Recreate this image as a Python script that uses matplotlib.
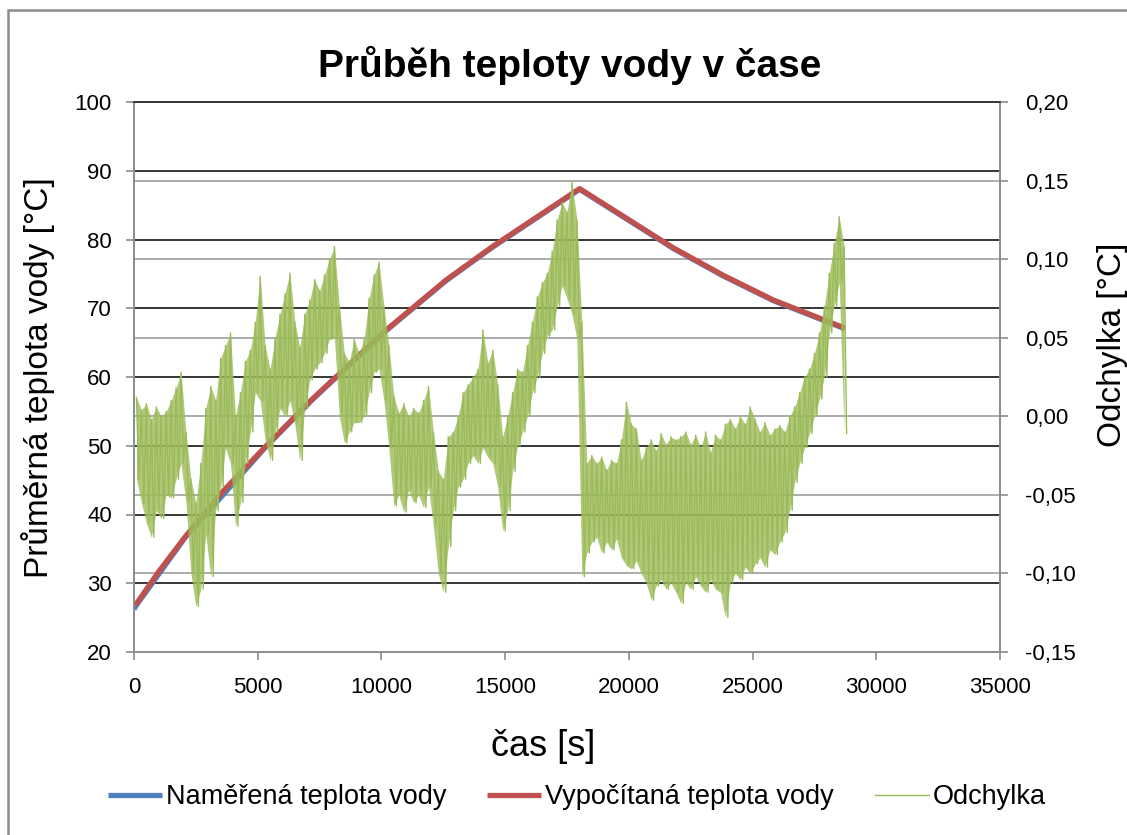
import numpy as np
import matplotlib
matplotlib.use('Agg')
import matplotlib.pyplot as plt
from matplotlib.transforms import blended_transform_factory
from matplotlib.patches import Rectangle

plt.rcParams['font.family'] = ['Liberation Sans', 'DejaVu Sans']

# measured and calculated mean water temperature [°C] vs. time [s]
meas_time = [0, 55, 2078, 5318, 7209, 10180, 12610, 14500, 18010, 21790, 23810, 25840, 28740]
meas_temp = [26.2, 26.6, 36.7, 49.8, 56.7, 66.7, 74.0, 78.9, 87.3, 78.7, 74.7, 71.1, 67.0]
calc_time = [55, 1000, 2078, 3600, 5318, 7209, 10180, 12610, 14500, 18010, 21790, 23810, 25840, 28740]
calc_temp = [26.8, 31.7, 36.8, 43.4, 49.9, 56.8, 66.8, 74.1, 79.0, 87.4, 78.8, 74.8, 71.2, 67.1]

# deviation [°C], local maxima / minima every 200 s
dev_time_hi = np.arange(100, 28800, 200)
dev_time_lo = dev_time_hi + 100
dev_hi = [
    0.012, 0.004, 0.008, -0.002, 0.006, 0.000, 0.003, 0.010, 0.018, 0.028,
    -0.010, -0.040, -0.055, -0.030, 0.005, 0.019, 0.010, 0.037, 0.045, 0.053,
    0.000, 0.015, 0.035, 0.042, 0.060, 0.089, 0.045, 0.030, 0.050, 0.065,
    0.078, 0.091, 0.060, 0.044, 0.065, 0.074, 0.087, 0.080, 0.090, 0.100,
    0.108, 0.070, 0.040, 0.035, 0.049, 0.040, 0.049, 0.075, 0.090, 0.098,
    0.070, 0.045, 0.013, 0.002, 0.008, 0.000, 0.005, 0.002, 0.010, 0.019,
    -0.010, -0.035, -0.040, -0.013, -0.010, 0.000, 0.015, 0.020, 0.025, 0.030,
    0.055, 0.034, 0.042, 0.020, -0.013, 0.000, 0.015, 0.030, 0.028, 0.045,
    0.060, 0.076, 0.085, 0.091, 0.105, 0.125, 0.136, 0.130, 0.149, 0.125,
    0.060, -0.030, -0.025, -0.030, -0.026, -0.034, -0.028, -0.030, -0.015, 0.009,
    -0.005, -0.008, -0.028, -0.020, -0.015, -0.022, -0.011, -0.018, -0.013, -0.015,
    -0.013, -0.010, -0.018, -0.012, -0.020, -0.010, -0.023, -0.012, -0.015, -0.005,
    -0.002, -0.008, 0.000, -0.005, 0.006, -0.002, -0.010, -0.004, -0.012, -0.008,
    -0.006, -0.010, 0.000, 0.006, 0.015, 0.025, 0.030, 0.040, 0.053, 0.070,
    0.091, 0.110, 0.127, 0.108,
]
dev_lo = [
    -0.040, -0.055, -0.068, -0.077, -0.060, -0.065, -0.050, -0.052, -0.040, -0.030,
    -0.055, -0.100, -0.121, -0.110, -0.075, -0.102, -0.060, -0.045, -0.020, -0.030,
    -0.070, -0.055, -0.030, -0.010, 0.015, 0.010, -0.015, -0.028, -0.010, 0.005,
    0.000, 0.010, -0.005, -0.028, 0.005, 0.023, 0.030, 0.034, 0.040, 0.049,
    0.050, 0.000, -0.017, -0.010, -0.004, -0.004, 0.000, 0.015, 0.028, 0.030,
    0.010, -0.020, -0.057, -0.050, -0.061, -0.047, -0.055, -0.050, -0.058, -0.045,
    -0.070, -0.100, -0.112, -0.083, -0.060, -0.045, -0.040, -0.030, -0.025, -0.030,
    -0.020, -0.026, -0.030, -0.045, -0.073, -0.060, -0.035, -0.019, -0.010, 0.000,
    0.015, 0.025, 0.040, 0.051, 0.055, 0.070, 0.083, 0.075, 0.065, 0.049,
    -0.102, -0.087, -0.080, -0.077, -0.087, -0.080, -0.085, -0.078, -0.090, -0.095,
    -0.097, -0.092, -0.100, -0.106, -0.117, -0.108, -0.104, -0.110, -0.106, -0.112,
    -0.119, -0.106, -0.110, -0.102, -0.108, -0.112, -0.104, -0.110, -0.112, -0.128,
    -0.106, -0.100, -0.104, -0.096, -0.100, -0.094, -0.090, -0.096, -0.085, -0.088,
    -0.080, -0.074, -0.060, -0.042, -0.030, -0.020, -0.011, 0.000, 0.011, 0.025,
    0.053, 0.070, 0.085, -0.011,
]

x_ticks = [0, 5000, 10000, 15000, 20000, 25000, 30000, 35000]
temp_ticks = [20, 30, 40, 50, 60, 70, 80, 90, 100]
dev_ticks = [-0.15, -0.10, -0.05, 0.00, 0.05, 0.10, 0.15, 0.20]
dev_labels = [f"{v:.2f}".replace('.', ',') for v in dev_ticks]

dev_time = np.column_stack([dev_time_hi, dev_time_lo]).ravel()
dev = np.column_stack([dev_hi, dev_lo]).ravel()

W, H = 1127, 835
fig = plt.figure(figsize=(W / 100, H / 100), dpi=100)
ax = fig.add_axes([134 / W, 1 - 652 / H, 866 / W, 550 / H])
ax2 = ax.twinx()

ax.set_xlim(0, 35000)
ax.set_ylim(20, 100)
ax2.set_ylim(-0.15, 0.20)

grid_gray = '#a6a6a6'
# black grid for the temperature axis
for v in temp_ticks[1:-1]:
    ax.axhline(v, color='black', lw=1.1, zorder=1)
# gray grid for the deviation axis, kept under the curves
trans = blended_transform_factory(ax.transAxes, ax2.transData)
for v in dev_ticks[1:-1]:
    ax.plot([0, 1], [v, v], transform=trans, color=grid_gray, lw=1.3, zorder=1)

l1, = ax.plot(meas_time, meas_temp, color='#4f81bd', lw=3.8, zorder=2,
              solid_capstyle='butt', label='Naměřená teplota vody')
l2, = ax.plot(calc_time, calc_temp, color='#c0504d', lw=3.8, zorder=3,
              solid_capstyle='butt', label='Vypočítaná teplota vody')

green = '#9bbb59'
# dense noisy signal: filled band between the extremes plus the zig-zag itself
ax2.fill_between(dev_time_hi, dev_hi, dev_lo, color=green, alpha=0.8, lw=0)
l3, = ax2.plot(dev_time, dev, color=green, lw=1.0, label='Odchylka')

ax.set_xticks(x_ticks)
ax.set_xticklabels([str(v) for v in x_ticks])
ax.set_yticks(temp_ticks)
ax2.set_yticks(dev_ticks)
ax2.set_yticklabels(dev_labels)

for a in (ax, ax2):
    for s in a.spines.values():
        s.set_color('#8c8c8c')
        s.set_linewidth(1.2)
    a.spines['top'].set_color('#333333')
ax.tick_params(axis='both', labelsize=16, color='#8c8c8c', length=6, width=1.2,
               direction='out', pad=10, labelcolor='black')
ax2.tick_params(axis='y', labelsize=16, color='#8c8c8c', length=6, width=1.2,
                direction='out', pad=12, labelcolor='black')
ax.tick_params(axis='x', pad=12)

fig.text(570 / W, 1 - 65 / H, 'Průběh teploty vody v čase', ha='center', va='center',
         fontsize=28, fontweight='bold')
fig.text(38 / W, 1 - 378 / H, 'Průměrná teplota vody [°C]', ha='center', va='center',
         rotation=90, fontsize=24)
fig.text(1112 / W, 1 - 345 / H, 'Odchylka [°C]', ha='center', va='center',
         rotation=90, fontsize=24)
fig.text(543 / W, 1 - 747 / H, 'čas [s]', ha='center', va='center', fontsize=26)

fig.legend(handles=[l1, l2, l3], loc='center', bbox_to_anchor=(577 / W, 1 - 797 / H),
           ncol=3, frameon=False, fontsize=19.5, handlelength=2.0, handletextpad=0.15,
           columnspacing=1.5)

# chart area border
fig.patches.append(Rectangle((8 / W, -0.1), 1.2, 1.1 - 10 / H, transform=fig.transFigure,
                             fill=False, ec='#8c8c8c', lw=1.8))

fig.savefig('out.png', dpi=100)
